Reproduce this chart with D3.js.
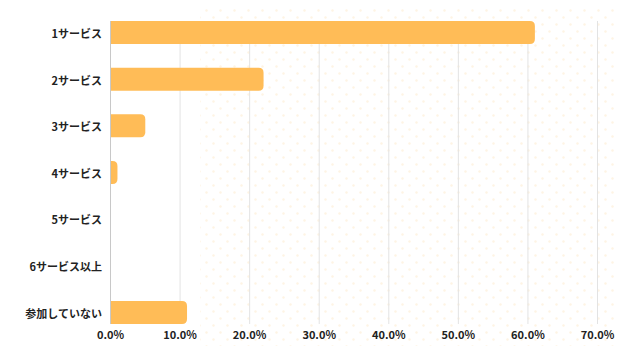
<!DOCTYPE html>
<html><head><meta charset="utf-8">
<script src="https://cdn.jsdelivr.net/npm/d3@7/dist/d3.min.js"></script>
<style>html,body{margin:0;padding:0;background:#fff;}svg{display:block;}</style>
</head><body>
<script>
const categories = ["1サービス","2サービス","3サービス","4サービス","5サービス","6サービス以上","参加していない"];
const values = [61.0, 22.0, 5.0, 1.0, 0, 0, 11.0];
const ticks = [0,10,20,30,40,50,60,70];

const W = 640, H = 360;
const svg = d3.select("body").append("svg").attr("width", W).attr("height", H);
const font = "'Noto Sans CJK JP','Noto Sans',sans-serif";

// faint dotted background pattern
const defs = svg.append("defs");
const pat = defs.append("pattern").attr("id","dots").attr("patternUnits","userSpaceOnUse")
  .attr("width",14).attr("height",14);
pat.append("circle").attr("cx",3.5).attr("cy",3.5).attr("r",1.2).attr("fill","#fef4e4");
pat.append("circle").attr("cx",10.5).attr("cy",10.5).attr("r",1.2).attr("fill","#fef4e4");
svg.append("rect").attr("x",200).attr("y",6).attr("width",416).attr("height",340).attr("fill","url(#dots)");

const x = d3.scaleLinear().domain([0,70]).range([110.5, 597.5]);
const y = d3.scaleBand().domain(categories).range([9.17, 335.8]).paddingInner(0.507).paddingOuter(0.2535);

// grid lines
svg.append("g").selectAll("line").data(ticks.slice(1)).join("line")
  .attr("x1", d=>x(d)).attr("x2", d=>x(d)).attr("y1", 21).attr("y2", 324)
  .attr("stroke","#e3e3e3").attr("stroke-width",1);

// bars with rounded right end
const r = 5;
svg.append("g").selectAll("path").data(values.map((v,i)=>({v,c:categories[i]}))).join("path")
  .filter(d=>d.v>0)
  .attr("fill","#ffbc57")
  .attr("d", d=>{
    const x0 = x(0), x1 = x(d.v), y0 = y(d.c), h = y.bandwidth();
    const rr = Math.min(r, (x1-x0), h/2);
    return `M${x0},${y0}H${x1-rr}Q${x1},${y0} ${x1},${y0+rr}V${y0+h-rr}Q${x1},${y0+h} ${x1-rr},${y0+h}H${x0}Z`;
  });

// y axis line
svg.append("line").attr("x1",110.5).attr("x2",110.5).attr("y1",21).attr("y2",324)
  .attr("stroke","#c8c8c8").attr("stroke-width",1);

// category labels
svg.append("g").selectAll("text").data(categories).join("text")
  .attr("x",102).attr("y",d=>y(d)+y.bandwidth()/2+1.5).attr("dy","0.35em")
  .attr("text-anchor","end").attr("font-family",font).attr("font-weight","bold")
  .attr("font-size",11).attr("fill","#222").text(d=>d);

// x tick labels
svg.append("g").selectAll("text").data(ticks).join("text")
  .attr("x",d=>x(d)).attr("y",335).attr("dy","0.35em")
  .attr("text-anchor","middle").attr("font-family",font).attr("font-weight","bold")
  .attr("font-size",11).attr("fill","#222").text(d=>d.toFixed(1)+"%");
</script>
</body></html>
